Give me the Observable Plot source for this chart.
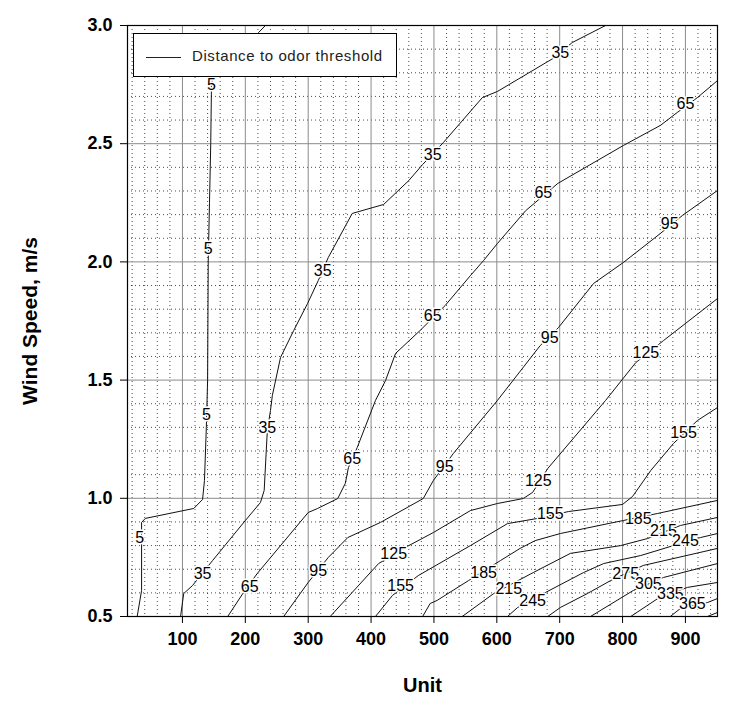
<!DOCTYPE html>
<html>
<head>
<meta charset="utf-8">
<script src="https://cdn.jsdelivr.net/npm/d3@7"></script>
<script src="https://cdn.jsdelivr.net/npm/@observablehq/plot@0.6"></script>
<style>
  html, body { margin: 0; padding: 0; background: #fff; }
  #wrap { position: relative; width: 746px; height: 701px; overflow: hidden; }
  #legend { position: absolute; left: 133px; top: 33px; width: 264px; height: 44px;
    background: #fff; border: 1px solid #000; box-sizing: border-box; }
  #legend .swatch { position: absolute; left: 12px; top: 23px; width: 35px; height: 0; border-top: 1px solid #222; }
  #legend .lab { position: absolute; left: 58px; top: 13px; font: 15px "Liberation Sans", Arial, sans-serif;
    letter-spacing: 0.6px; color: #222; white-space: nowrap; }
</style>
</head>
<body>
<div id="wrap"></div>
<script>
// ---- axis ticks & grid ----
const xTicks = [100, 200, 300, 400, 500, 600, 700, 800, 900];
const yTicks = [0.5, 1.0, 1.5, 2.0, 2.5, 3.0];
const xMinor = [20, 40, 60, 80, 120, 140, 160, 180, 220, 240, 260, 280, 320, 340, 360, 380,
  420, 440, 460, 480, 520, 540, 560, 580, 620, 640, 660, 680, 720, 740, 760, 780,
  820, 840, 860, 880, 920, 940];
const yMinor = [0.6, 0.7, 0.8, 0.9, 1.1, 1.2, 1.3, 1.4, 1.6, 1.7, 1.8, 1.9,
  2.1, 2.2, 2.3, 2.4, 2.6, 2.7, 2.8, 2.9];

// ---- contour levels (distance to odor threshold) ----
const levels = [5, 35, 65, 95, 125, 155, 185, 215, 245, 275, 305, 335, 365, 395];

// contour polylines: [unit, wind speed m/s]
const c5 = [[232, 3.0], [221, 2.97], [150, 2.80], [146, 2.75], [146, 2.71], [145, 2.50], [143, 2.25],
  [141, 2.0], [140, 1.5], [138, 1.3], [135, 1.075], [132, 0.995], [118, 0.957], [41, 0.915],
  [35, 0.898], [35, 0.61], [28, 0.5]];
const c35 = [[97, 0.5], [102, 0.597], [116, 0.631], [148, 0.737], [200, 0.906], [224, 0.982],
  [230, 1.033], [235, 1.287], [240, 1.371], [243, 1.435], [256, 1.596], [277, 1.71], [299, 1.824],
  [316, 1.921], [332, 2.019], [370, 2.205], [420, 2.243], [460, 2.344], [482, 2.412], [515, 2.505],
  [577, 2.695], [601, 2.721], [689, 2.86], [720, 2.928], [773, 3.0]];
const c65 = [[172, 0.5], [196, 0.597], [219, 0.682], [300, 0.94], [315, 0.957], [347, 0.999],
  [359, 1.063], [364, 1.13], [378, 1.215], [407, 1.414], [423, 1.498], [439, 1.613], [478, 1.71],
  [518, 1.816], [558, 1.942], [579, 2.006], [601, 2.078], [646, 2.217], [697, 2.332], [801, 2.492],
  [860, 2.577], [887, 2.632], [919, 2.695], [951, 2.767]];
const c95 = [[261, 0.5], [300, 0.644], [332, 0.75], [363, 0.834], [415, 0.898], [483, 0.999],
  [499, 1.075], [531, 1.19], [601, 1.414], [669, 1.646], [698, 1.722], [754, 1.909], [801, 1.997],
  [860, 2.12], [895, 2.196], [951, 2.302]];
const c125 = [[335, 0.5], [412, 0.724], [460, 0.8], [499, 0.855], [558, 0.948], [601, 0.978],
  [642, 0.999], [657, 1.025], [681, 1.126], [773, 1.414], [821, 1.574], [865, 1.667], [951, 1.845]];
const c155 = [[407, 0.5], [434, 0.589], [475, 0.673], [558, 0.8], [617, 0.893], [665, 0.915],
  [714, 0.944], [800, 0.974], [816, 1.008], [845, 1.118], [881, 1.232], [919, 1.329], [951, 1.384]];
const c185 = [[482, 0.5], [494, 0.555], [505, 0.568], [555, 0.652], [606, 0.737], [637, 0.788],
  [661, 0.821], [701, 0.851], [801, 0.906], [856, 0.936], [951, 0.991]];
const c215 = [[545, 0.5], [595, 0.597], [658, 0.686], [717, 0.767], [797, 0.8], [840, 0.83],
  [892, 0.885], [951, 0.919]];
const c245 = [[617, 0.5], [633, 0.538], [677, 0.601], [738, 0.686], [770, 0.724], [829, 0.758],
  [881, 0.8], [924, 0.834], [951, 0.851]];
const c275 = [[681, 0.5], [701, 0.538], [744, 0.597], [781, 0.652], [833, 0.716], [951, 0.788]];
const c305 = [[749, 0.5], [817, 0.61], [865, 0.665], [951, 0.724]];
const c335 = [[813, 0.5], [856, 0.576], [903, 0.623], [951, 0.644]];
const c365 = [[876, 0.5], [892, 0.534], [935, 0.559], [951, 0.576]];
const c395 = [[935, 0.5], [951, 0.517]];

// contour label positions: [unit, wind speed m/s]
const l5 = [[146, 2.75], [141, 2.057], [138, 1.355], [32, 0.834]];
const l35 = [[132, 0.682], [235, 1.30], [323, 1.96], [498, 2.454], [701, 2.886]];
const l65 = [[207, 0.627], [370, 1.168], [498, 1.773], [674, 2.294], [900, 2.67]];
const l95 = [[316, 0.695], [517, 1.135], [684, 1.68], [875, 2.162]];
const l125 = [[436, 0.767], [666, 1.075], [837, 1.617]];
const l155 = [[447, 0.631], [685, 0.936], [897, 1.278]];
const l185 = [[579, 0.686], [825, 0.915]];
const l215 = [[619, 0.618], [865, 0.864]];
const l245 = [[657, 0.568], [900, 0.821]];
const l275 = [[805, 0.682]];
const l305 = [[841, 0.64]];
const l335 = [[876, 0.597]];
const l365 = [[911, 0.555]];
const l395 = [];

const contourPts = [c5, c35, c65, c95, c125, c155, c185, c215, c245, c275, c305, c335, c365, c395];
const labelPts = [l5, l35, l65, l95, l125, l155, l185, l215, l245, l275, l305, l335, l365, l395];

const lineData = levels.flatMap((lv, i) => contourPts[i].map(([u, w]) => ({level: lv, unit: u, wind: w})));
const labelData = levels.flatMap((lv, i) => labelPts[i].map(([u, w]) => ({level: lv, unit: u, wind: w})));

const font = "'Liberation Sans', Arial, sans-serif";

const chart = Plot.plot({
  width: 746,
  height: 701,
  marginLeft: 127,
  marginRight: 29,
  marginTop: 25,
  marginBottom: 85,
  style: {fontFamily: font, background: "#fff", color: "#000"},
  x: {domain: [12.6, 951]},
  y: {domain: [0.5, 3.0]},
  marks: [
    Plot.ruleX(xMinor, {stroke: "#000", strokeOpacity: 0.7, strokeDasharray: "1,3"}),
    Plot.ruleY(yMinor, {stroke: "#000", strokeOpacity: 0.7, strokeDasharray: "1,3"}),
    Plot.ruleX(xTicks, {stroke: "#8c8c8c", strokeWidth: 1}),
    Plot.ruleY(yTicks, {stroke: "#8c8c8c", strokeWidth: 1}),
    Plot.line(lineData, {x: "unit", y: "wind", z: "level", stroke: "#111", strokeWidth: 1, curve: "linear"}),
    Plot.text(labelData, {x: "unit", y: "wind", text: d => String(d.level), fill: "#000",
      stroke: "#fff", strokeWidth: 3, fontSize: 16, fontFamily: font}),
    Plot.frame({stroke: "#000", strokeWidth: 1.2}),
    Plot.axisX(xTicks, {tickSize: 7, tickPadding: 9, fontSize: 18, fontWeight: "bold", label: null, stroke: "#000"}),
    Plot.axisY(yTicks, {tickSize: 7, tickPadding: 8, fontSize: 18, fontWeight: "bold", label: null,
      tickFormat: d3.format(".1f"), stroke: "#000"}),
    Plot.text(["Unit"], {frameAnchor: "bottom", dy: 69, lineAnchor: "middle", fontSize: 20, fontWeight: "bold"}),
    Plot.text(["Wind Speed, m/s"], {frameAnchor: "left", dx: -97, rotate: -90, textAnchor: "middle",
      lineAnchor: "middle", fontSize: 21, fontWeight: "bold"})
  ]
});

const wrap = document.getElementById("wrap");
wrap.appendChild(chart);
const legend = document.createElement("div");
legend.id = "legend";
legend.innerHTML = '<div class="swatch"></div><div class="lab">Distance to odor threshold</div>';
wrap.appendChild(legend);
</script>
</body>
</html>
